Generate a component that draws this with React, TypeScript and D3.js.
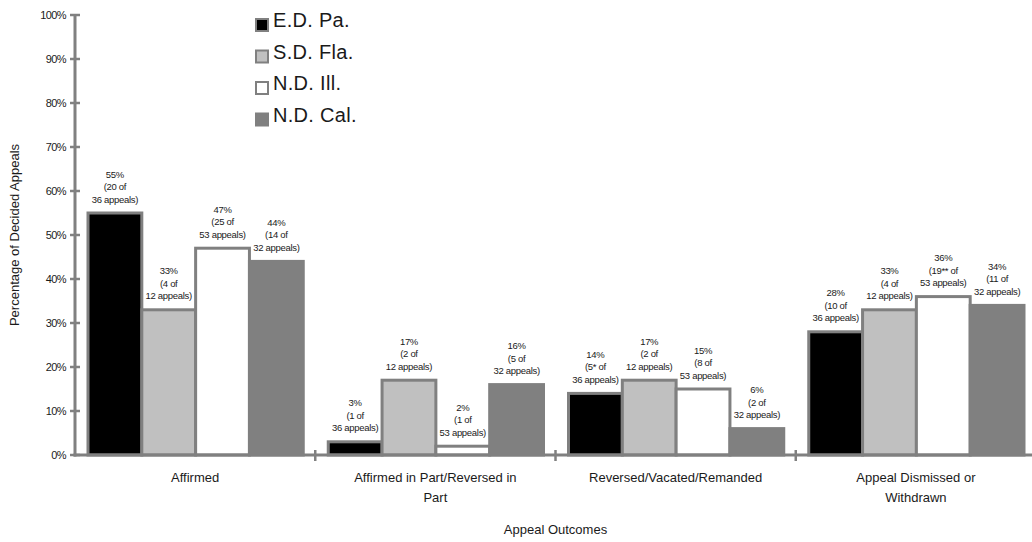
import React from "react";
import * as d3 from "d3";

const categories = ["Affirmed", "Affirmed in Part/Reversed in Part", "Reversed/Vacated/Remanded", "Appeal Dismissed or Withdrawn"];
const categoryLines = [["Affirmed"], ["Affirmed in Part/Reversed in", "Part"], ["Reversed/Vacated/Remanded"], ["Appeal Dismissed or", "Withdrawn"]];
const seriesNames = ["E.D. Pa.", "S.D. Fla.", "N.D. Ill.", "N.D. Cal."];
const edPa = [55, 3, 14, 28];
const sdFla = [33, 17, 17, 33];
const ndIll = [47, 2, 15, 36];
const ndCal = [44, 16, 6, 34];
const edPaCounts = ["20", "1", "5*", "10"];
const sdFlaCounts = ["4", "2", "2", "4"];
const ndIllCounts = ["25", "1", "8", "19**"];
const ndCalCounts = ["14", "5", "2", "11"];
const totals = [36, 12, 53, 32];
const yTicks = [0, 10, 20, 30, 40, 50, 60, 70, 80, 90, 100];

const fills = ["#000000", "#c0c0c0", "#ffffff", "#808080"];
const GRAY = "#808080";
const TEXT = "#1a1a1a";

export default function App() {
  const W = 1032, H = 542;
  const left = 75, right = 1036, top = 15, bottom = 455;
  const values = [edPa, sdFla, ndIll, ndCal];
  const counts = [edPaCounts, sdFlaCounts, ndIllCounts, ndCalCounts];

  const y = d3.scaleLinear().domain([0, 100]).range([bottom, top]);
  const x0 = d3.scaleBand<string>().domain(categories).range([left, right]).paddingInner(0).paddingOuter(0);
  const x1 = d3.scaleBand<string>().domain(seriesNames).range([13, x0.bandwidth() - 12]).padding(0);

  const font = "'Liberation Sans', Arial, sans-serif";

  return (
    <svg width={W} height={H} style={{ position: "absolute", left: 0, top: 0, background: "#fff" }} fontFamily={font}>
      <rect x={0} y={0} width={W} height={H} fill="#fff" />
      {/* bars */}
      {categories.map((c, ci) => (
        <g key={c}>
          {seriesNames.map((s, si) => {
            const v = values[si][ci];
            const bx = (x0(c) as number) + (x1(s) as number);
            const bw = x1.bandwidth();
            return (
              <rect key={s} x={bx} y={y(v)} width={bw} height={bottom - y(v)} fill={fills[si]} stroke={GRAY} strokeWidth={3} />
            );
          })}
        </g>
      ))}
      {/* bar labels */}
      {categories.map((c, ci) => (
        <g key={c + "l"}>
          {seriesNames.map((s, si) => {
            const v = values[si][ci];
            const cx = (x0(c) as number) + (x1(s) as number) + x1.bandwidth() / 2;
            const ty = y(v);
            const lines = [`${v}%`, `(${counts[si][ci]} of`, `${totals[si]} appeals)`];
            return (
              <text key={s} x={cx} textAnchor="middle" fontSize={9.5} fill={TEXT} letterSpacing={-0.3}>
                {lines.map((l, li) => (
                  <tspan key={li} x={cx} y={ty - 10.5 - (2 - li) * 12.5}>{l}</tspan>
                ))}
              </text>
            );
          })}
        </g>
      ))}
      {/* y axis */}
      <line x1={left} x2={left} y1={top} y2={bottom + 1.5} stroke={GRAY} strokeWidth={3} />
      {yTicks.map((t) => (
        <g key={t}>
          <line x1={left - 5} x2={left + 5} y1={y(t)} y2={y(t)} stroke={GRAY} strokeWidth={2.5} />
          <text x={66} y={y(t) + 4} textAnchor="end" fontSize={11} fill={TEXT} letterSpacing={-0.6}>{t}%</text>
        </g>
      ))}
      {/* x axis */}
      <line x1={left - 1.5} x2={W} y1={bottom} y2={bottom} stroke={GRAY} strokeWidth={3} />
      {categories.slice(1).map((c) => (
        <line key={c} x1={x0(c) as number} x2={x0(c) as number} y1={bottom - 5} y2={bottom + 6} stroke={GRAY} strokeWidth={2.5} />
      ))}
      {categories.map((c, ci) => {
        const cx = (x0(c) as number) + x0.bandwidth() / 2;
        return (
          <text key={c} textAnchor="middle" fontSize={13} fill={TEXT}>
            {categoryLines[ci].map((l, li) => (
              <tspan key={li} x={cx} y={482 + li * 20}>{l}</tspan>
            ))}
          </text>
        );
      })}
      <text x={(left + right) / 2} y={534} textAnchor="middle" fontSize={13} fill={TEXT}>Appeal Outcomes</text>
      <text transform={`translate(19,${(top + bottom) / 2}) rotate(-90)`} textAnchor="middle" fontSize={13} fill={TEXT}>Percentage of Decided Appeals</text>
      {/* legend */}
      {seriesNames.map((s, si) => (
        <g key={s} transform={`translate(255,${18 + si * 31.5})`}>
          <rect x={1} y={1} width={12} height={12} fill={fills[si]} stroke={GRAY} strokeWidth={2} />
          <text x={18} y={9} fontSize={20} fill={TEXT} letterSpacing={0.3}>{s}</text>
        </g>
      ))}
    </svg>
  );
}
